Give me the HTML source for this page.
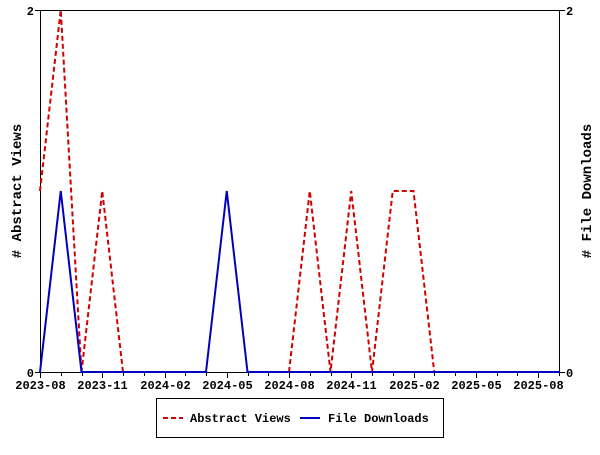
<!DOCTYPE html>
<html><head><style>body{margin:0;background:#fff}svg text{font-family:"Liberation Mono","DejaVu Sans Mono",monospace;font-weight:bold;font-size:12px}</style></head>
<body><svg width="600" height="450" xmlns="http://www.w3.org/2000/svg">
<rect width="600" height="450" fill="#fff"/>
<g stroke="#000" stroke-width="1" fill="none">
<line x1="40.5" y1="10" x2="40.5" y2="372"/>
<line x1="559.5" y1="10" x2="559.5" y2="372"/>
<line x1="40" y1="10.5" x2="560" y2="10.5"/>
<line x1="40" y1="372.5" x2="560" y2="372.5"/>
<line x1="35" y1="10.5" x2="40" y2="10.5"/><line x1="35" y1="372.5" x2="40" y2="372.5"/>
<line x1="560" y1="10.5" x2="565" y2="10.5"/><line x1="560" y1="372.5" x2="565" y2="372.5"/>
</g>
<g stroke="#000" stroke-width="1" id="ticks"></g>
<g text-anchor="end"><text x="34" y="15">2</text><text x="34" y="377">0</text></g>
<g><text x="566" y="15">2</text><text x="566" y="377">0</text></g>
<g text-anchor="middle" id="lbl"></g>
<polyline fill="none" stroke="#d00000" stroke-width="2" stroke-dasharray="5,3" points="40,191 60.75,10 81.5,372 102.25,191 123,372"/>
<polyline fill="none" stroke="#d00000" stroke-width="2" stroke-dasharray="5,3" points="289,372 309.75,191 330.5,372 351.25,191 372,372 392.75,191 413.5,191 434.25,372"/>
<polyline fill="none" stroke="#0000c0" stroke-width="2" points="40,372 60.75,191 81.5,372 206,372 226.75,191 247.5,372 560,372"/>
<text transform="translate(21,191) rotate(-90)" text-anchor="middle" style="font-size:14px"># Abstract Views</text>
<text transform="translate(591,191) rotate(-90)" text-anchor="middle" style="font-size:14px"># File Downloads</text>
<rect x="156.5" y="398.5" width="287" height="39" fill="none" stroke="#000"/>
<line x1="163" y1="418" x2="183" y2="418" stroke="#d00000" stroke-width="2" stroke-dasharray="5,3"/>
<text x="190" y="422">Abstract Views</text>
<line x1="300" y1="418" x2="320" y2="418" stroke="#0000c0" stroke-width="2"/>
<text x="328" y="422">File Downloads</text>
<script>
var t=document.getElementById('ticks'),l=document.getElementById('lbl'),ns='http://www.w3.org/2000/svg';
var labs=['2023-08','2023-11','2024-02','2024-05','2024-08','2024-11','2025-02','2025-05','2025-08'];
for(var i=0;i<=25;i++){var x=Math.round(40+i*20.75)+0.5;var e=document.createElementNS(ns,'line');e.setAttribute('x1',x);e.setAttribute('x2',x);e.setAttribute('y1',372);e.setAttribute('y2',i%3==0?378:376);t.appendChild(e);
if(i%3==0){var s=document.createElementNS(ns,'text');s.setAttribute('x',x);s.setAttribute('y',389);s.textContent=labs[i/3];l.appendChild(s);}}
</script>
</svg></body></html>
